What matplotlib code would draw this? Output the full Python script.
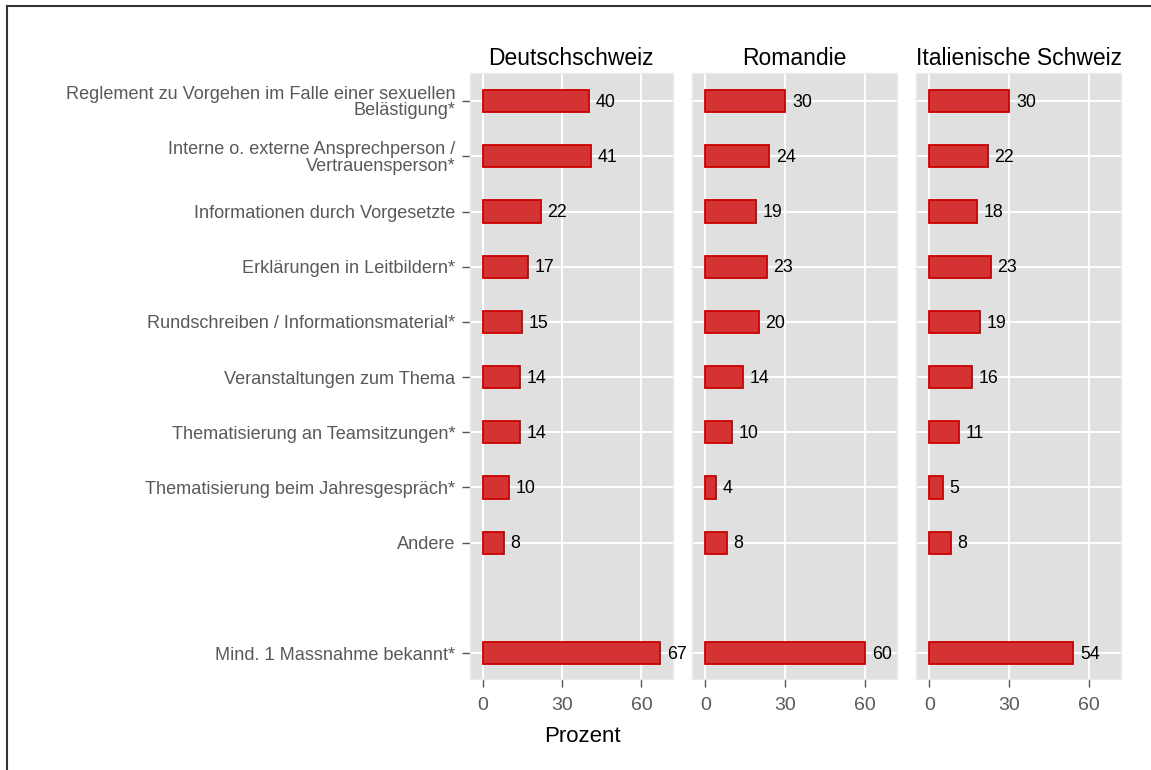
import matplotlib
matplotlib.use('Agg')
import matplotlib.pyplot as plt
from matplotlib.lines import Line2D

plt.rcParams['font.family'] = ['Liberation Sans', 'DejaVu Sans']

categories = [
    "Reglement zu Vorgehen im Falle einer sexuellen\nBelästigung*",
    "Interne o. externe Ansprechperson /\nVertrauensperson*",
    "Informationen durch Vorgesetzte",
    "Erklärungen in Leitbildern*",
    "Rundschreiben / Informationsmaterial*",
    "Veranstaltungen zum Thema",
    "Thematisierung an Teamsitzungen*",
    "Thematisierung beim Jahresgespräch*",
    "Andere",
    "Mind. 1 Massnahme bekannt*",
]
# slot 10 stays empty between "Andere" and the summary row
slots = [1, 2, 3, 4, 5, 6, 7, 8, 9, 11]

regions = ["Deutschschweiz", "Romandie", "Italienische Schweiz"]
deutschschweiz = [40, 41, 22, 17, 15, 14, 14, 10, 8, 67]
romandie = [30, 24, 19, 23, 20, 14, 10, 4, 8, 60]
italienische_schweiz = [30, 22, 18, 23, 19, 16, 11, 5, 8, 54]
xticks = [0, 30, 60]

W, H = 1151, 770
fig = plt.figure(figsize=(W / 100, H / 100), dpi=100)

panel_left = [469.5, 692, 916]
panel_width = [203.5, 205, 205]
top_px, bottom_px = 73, 679

fill_col = '#d43333'
edge_col = '#cc0000'
text_gray = '#595959'

for i, (name, values) in enumerate(zip(regions, [deutschschweiz, romandie, italienische_schweiz])):
    ax = fig.add_axes([panel_left[i] / W, 1 - bottom_px / H,
                       panel_width[i] / W, (bottom_px - top_px) / H])
    ax.set_facecolor('#e0e0e0')
    for s in ax.spines.values():
        s.set_color('#ebebeb')
        s.set_linewidth(1.0)
    ax.set_axisbelow(True)

    ax.barh(slots, values, height=0.4, color=fill_col, edgecolor=edge_col, linewidth=1.3)
    for y, v in zip(slots, values):
        ax.text(v + 2.5, y + 0.02, str(v), ha='left', va='center', fontsize=12.8, color='black')

    ax.set_xlim(-4.95, 71.9)
    ax.set_ylim(11.47, 0.49)
    ax.set_xticks(xticks)
    ax.set_xticklabels([str(t) for t in xticks])
    ax.set_yticks(slots)
    ax.grid(True, color='white', linewidth=1.4)
    ax.tick_params(axis='x', length=6, width=1, color='#555555', labelsize=14,
                   labelcolor=text_gray, pad=7)
    ax.tick_params(axis='y', length=6, width=1, color='#555555', labelsize=13.1,
                   labelcolor=text_gray, pad=4)

    if i == 0:
        ax.set_yticklabels(categories, linespacing=0.95)
    else:
        ax.set_yticklabels([])
        ax.tick_params(axis='y', length=0)

    ax.set_title(name, fontsize=16.5, color='black', pad=6)

fig.text(582 / W, 1 - 737 / H, 'Prozent', ha='center', va='center', fontsize=16, color='black')

# frame around the figure (only left and top edges fall inside the image)
fig.add_artist(Line2D([7 / W, 7 / W], [0, 1 - 6 / H], color='#333333', linewidth=1.5))
fig.add_artist(Line2D([7 / W, 1], [1 - 6 / H, 1 - 6 / H], color='#333333', linewidth=1.5))

plt.savefig('out.png', dpi=100)
